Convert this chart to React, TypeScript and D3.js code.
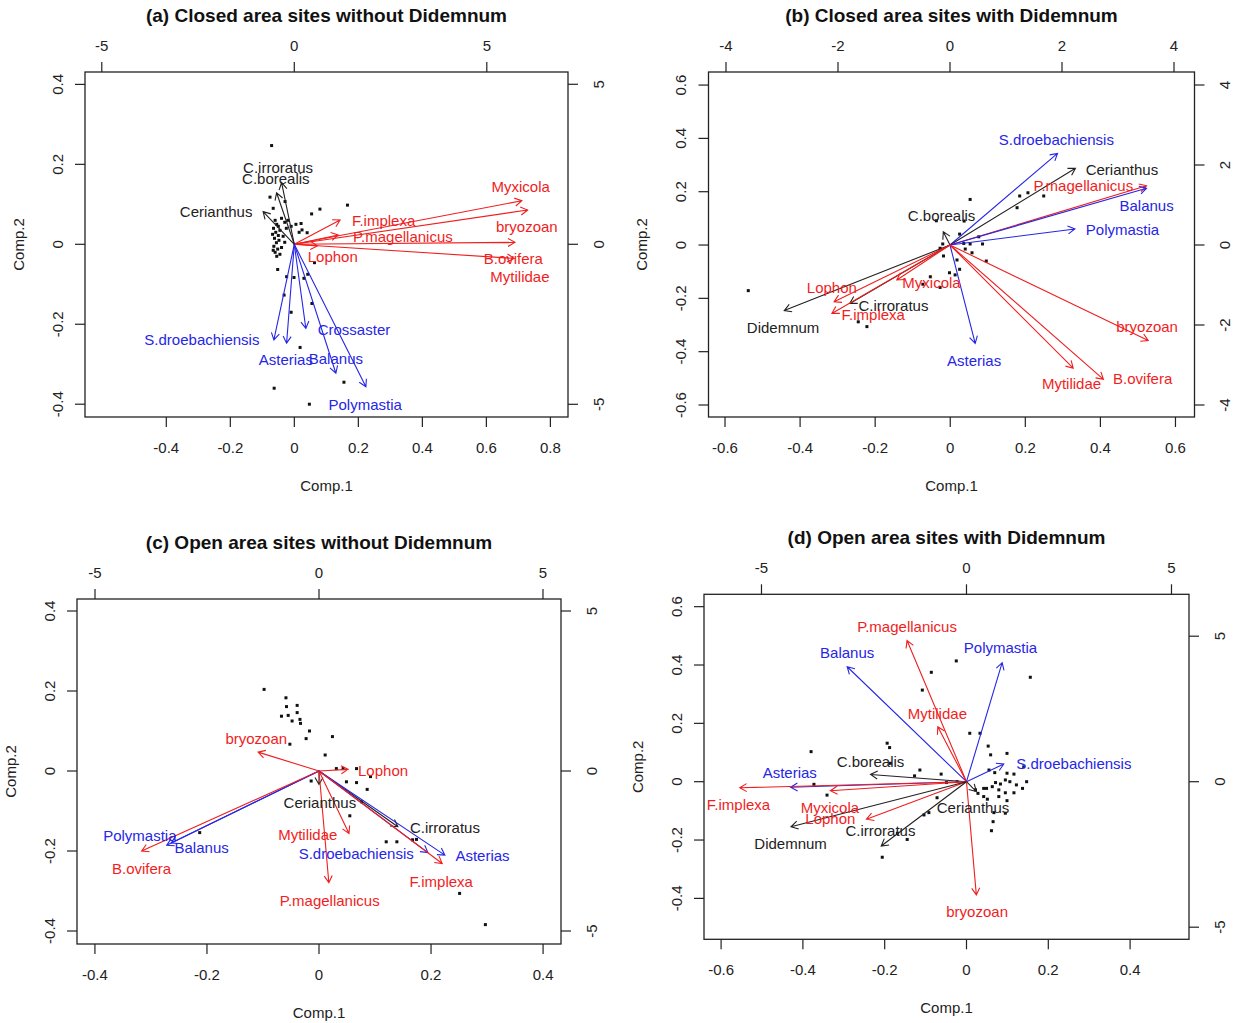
import React from "react";
import * as d3 from "d3";

const FONT = "'Liberation Sans', Arial, Helvetica, sans-serif";
const COLORS: Record<string, string> = { r: "#f01e1e", b: "#2626e6", k: "#222222" };

// ---------- titles ----------
const titles = [
  "(a) Closed area sites without Didemnum",
  "(b) Closed area sites with Didemnum",
  "(c) Open area sites without Didemnum",
  "(d) Open area sites with Didemnum",
];

// ---------- tick values ----------
const aTicksB = [-0.4, -0.2, 0, 0.2, 0.4, 0.6, 0.8];
const aTicksL = [-0.4, -0.2, 0, 0.2, 0.4];
const aTicksT = [-5, 0, 5];
const aTicksR = [-5, 0, 5];
const bTicksB = [-0.6, -0.4, -0.2, 0, 0.2, 0.4, 0.6];
const bTicksL = [-0.6, -0.4, -0.2, 0, 0.2, 0.4, 0.6];
const bTicksT = [-4, -2, 0, 2, 4];
const bTicksR = [-4, -2, 0, 2, 4];
const cTicksB = [-0.4, -0.2, 0, 0.2, 0.4];
const cTicksL = [-0.4, -0.2, 0, 0.2, 0.4];
const cTicksT = [-5, 0, 5];
const cTicksR = [-5, 0, 5];
const dTicksB = [-0.6, -0.4, -0.2, 0, 0.2, 0.4];
const dTicksL = [-0.4, -0.2, 0, 0.2, 0.4, 0.6];
const dTicksT = [-5, 0, 5];
const dTicksR = [-5, 0, 5];

// ---------- panel (a) ----------
const aSpecies = ["Myxicola", "bryozoan", "Mytilidae", "B.ovifera", "F.implexa", "P.magellanicus", "Lophon", "C.irroratus", "C.borealis", "Cerianthus", "S.droebachiensis", "Asterias", "Crossaster", "Balanus", "Polymastia"];
const aGroup = ["r", "r", "r", "r", "r", "r", "r", "k", "k", "k", "b", "b", "b", "b", "b"];
const aLoadX = [5.91, 6.06, 5.73, 5.71, 1.19, 1.14, 0.6, -0.33, -0.46, -0.81, -0.53, -0.2, 0.3, 1.08, 1.86];
const aLoadY = [1.36, 1.07, 0.06, -0.44, 0.76, 0.29, -0.05, 1.93, 1.61, 1.02, -2.99, -3.09, -2.63, -4.03, -4.45];
const aLabX = [5.88, 6.04, 5.86, 5.69, 2.32, 2.82, 1.0, -0.42, -0.48, -2.03, -2.4, -0.22, 1.55, 1.08, 1.84];
const aLabY = [1.82, 0.57, -1.01, -0.45, 0.73, 0.24, -0.39, 2.41, 2.06, 1.02, -2.99, -3.61, -2.67, -3.58, -5.0];
const aScoreX = [-0.071, 0.166, 0.08, 0.054, -0.052, 0.063, -0.024, -0.001, 0.03, 0.042, -0.032, -0.01, 0.055, 0.018, -0.063, 0.155, 0.047, -0.029, -0.076, -0.066, 0.021, 0.04, 0.024,
  -0.06, -0.055, -0.05, -0.065, -0.045, -0.058, -0.05, -0.062, -0.048, -0.056, -0.064, -0.052, -0.06, -0.045, -0.04, -0.035, -0.03, -0.02, -0.025, -0.01, -0.04, -0.068, -0.066, -0.055, -0.03, 0.005, 0.015];
const aScoreY = [0.247, 0.098, 0.088, 0.076, -0.063, -0.046, -0.081, -0.083, -0.085, -0.075, -0.127, -0.17, -0.148, -0.258, -0.36, -0.345, -0.4, 0.107, 0.118, 0.09, 0.052, 0.029, 0.036,
  0.06, 0.05, 0.045, 0.04, 0.035, 0.03, 0.022, 0.015, 0.01, 0.004, -0.005, -0.012, -0.02, -0.025, -0.008, 0.02, 0.055, 0.06, 0.04, 0.045, 0.065, 0.025, -0.015, -0.03, 0.005, 0.05, 0.03];

// ---------- panel (b) ----------
const bSpecies = ["S.droebachiensis", "Cerianthus", "P.magellanicus", "Balanus", "Polymastia", "C.borealis", "Didemnum", "Lophon", "C.irroratus", "F.implexa", "Myxicola", "Asterias", "bryozoan", "Mytilidae", "B.ovifera"];
const bGroup = ["b", "k", "r", "b", "b", "k", "k", "r", "k", "r", "r", "b", "r", "r", "r"];
const bLoadX = [1.92, 2.24, 3.51, 3.51, 2.23, -0.12, -2.96, -2.07, -1.79, -2.11, -0.95, 0.45, 3.54, 2.2, 2.74];
const bLoadY = [2.29, 1.92, 1.48, 1.42, 0.4, 0.33, -1.64, -1.42, -1.46, -1.71, -0.875, -2.46, -2.39, -3.08, -3.36];
const bLabX = [1.9, 3.07, 2.38, 3.51, 3.08, -0.15, -2.98, -2.11, -1.01, -1.37, -0.33, 0.43, 3.52, 2.17, 3.44];
const bLabY = [2.64, 1.89, 1.48, 0.98, 0.39, 0.75, -2.06, -1.06, -1.5, -1.73, -0.93, -2.88, -2.04, -3.46, -3.34];
const bScoreX = [-0.538, 0.053, 0.185, 0.207, 0.249, 0.178, 0.037, -0.037, 0.025, -0.02, 0.036, 0.053, 0.076, 0.086, 0.04, 0.058, 0.096, -0.018, -0.002, 0.025, 0.013, -0.053, -0.073, -0.027, -0.245, -0.222, 0.018, -0.027];
const bScoreY = [-0.171, 0.171, 0.184, 0.196, 0.184, 0.14, 0.09, 0.091, 0.041, 0.004, 0.006, 0.004, 0.031, 0.004, -0.015, -0.029, -0.06, -0.041, -0.104, -0.091, -0.112, -0.119, -0.147, -0.159, -0.288, -0.306, -0.056, -0.012];

// ---------- panel (c) ----------
const cSpecies = ["bryozoan", "Lophon", "Cerianthus", "Polymastia", "Balanus", "B.ovifera", "Mytilidae", "P.magellanicus", "C.irroratus", "S.droebachiensis", "Asterias", "F.implexa"];
const cGroup = ["r", "r", "k", "b", "b", "r", "r", "r", "k", "b", "b", "r"];
const cLoadX = [-1.36, 0.65, 0.0, -3.3, -3.4, -3.96, 0.67, 0.22, 1.76, 2.43, 2.81, 2.75];
const cLoadY = [0.59, 0.05, -0.42, -2.25, -2.32, -2.5, -1.95, -3.49, -1.74, -2.55, -2.63, -2.89];
const cLabX = [-1.4, 1.43, 0.02, -4.0, -2.62, -3.96, -0.25, 0.24, 2.81, 0.83, 3.65, 2.73];
const cLabY = [1.02, 0.03, -0.97, -2.03, -2.38, -3.05, -1.98, -4.06, -1.77, -2.57, -2.65, -3.44];
const cScoreX = [-0.098, -0.059, -0.058, -0.039, -0.067, -0.055, -0.039, -0.048, -0.034, -0.033, -0.017, -0.023, 0.024, -0.052, 0.011, 0.031, 0.043, 0.067, 0.092, 0.049, 0.067, 0.086, -0.014, 0.076, 0.055, -0.213, 0.12, 0.139, 0.167, 0.174, 0.251, 0.297];
const cScoreY = [0.204, 0.183, 0.161, 0.164, 0.137, 0.139, 0.146, 0.125, 0.129, 0.119, 0.1, 0.081, 0.086, 0.067, 0.04, 0.006, 0.006, 0.006, -0.014, -0.027, -0.029, -0.046, -0.025, -0.077, -0.112, -0.154, -0.177, -0.177, -0.172, -0.171, -0.306, -0.384];

// ---------- panel (d) ----------
const dSpecies = ["P.magellanicus", "Balanus", "Polymastia", "Mytilidae", "S.droebachiensis", "C.borealis", "Asterias", "F.implexa", "Myxicola", "Lophon", "Didemnum", "C.irroratus", "Cerianthus", "bryozoan"];
const dGroup = ["r", "b", "b", "r", "b", "k", "b", "r", "r", "r", "k", "k", "k", "r"];
const dLoadX = [-1.45, -2.91, 0.87, -0.7, 0.91, -2.34, -4.29, -5.53, -3.32, -2.44, -4.28, -2.08, 0.24, 0.24];
const dLoadY = [4.85, 3.95, 4.09, 1.89, 0.61, 0.25, -0.19, -0.21, -0.31, -1.29, -1.55, -2.21, -0.34, -3.89];
const dLabX = [-1.45, -2.91, 0.83, -0.71, 2.62, -2.34, -4.31, -5.56, -3.33, -3.32, -4.29, -2.1, 0.16, 0.26];
const dLabY = [5.35, 4.45, 4.6, 2.35, 0.61, 0.71, 0.31, -0.77, -0.88, -1.27, -2.12, -1.68, -0.88, -4.47];
const dScoreX = [-0.025, -0.086, -0.108, 0.156, -0.38, -0.194, -0.188, 0.008, 0.033, 0.053, 0.059, 0.099, 0.069, 0.055, 0.116, -0.114, -0.062, -0.127, -0.186, -0.373, -0.341, -0.072, -0.092, -0.104, -0.145, -0.206, -0.169,
  0.042, 0.063, 0.083, 0.095, 0.106, 0.122, 0.147, 0.137, 0.116, 0.095, 0.079, 0.079, 0.099, 0.095, 0.067, 0.065, 0.061, 0.042, 0.028, 0.051, 0.071, 0.049, 0.14, 0.099, 0.022, -0.049, -0.023];
const dScoreY = [0.414, 0.375, 0.314, 0.358, 0.103, 0.132, 0.117, 0.166, 0.166, 0.122, 0.092, 0.097, 0.031, 0.04, 0.026, 0.04, 0.026, 0.02, 0.063, -0.009, -0.046, -0.055, -0.106, -0.114, -0.198, -0.259, -0.177,
  -0.023, -0.017, -0.008, 0.006, 0.0, -0.011, 0.0, -0.023, -0.038, -0.038, -0.051, -0.028, -0.065, -0.108, -0.106, -0.137, -0.168, -0.051, -0.04, -0.06, -0.003, -0.023, 0.051, 0.029, -0.028, -0.003, 0.0];

type Spec = {
  title: string;
  box: [number, number, number, number]; // left, top, right, bottom
  xDom: [number, number];
  yDom: [number, number];
  x2Dom: [number, number];
  y2Dom: [number, number];
  ticksB: number[];
  ticksL: number[];
  ticksT: number[];
  ticksR: number[];
  species: string[];
  group: string[];
  loadX: number[];
  loadY: number[];
  labX: number[];
  labY: number[];
  scoreX: number[];
  scoreY: number[];
};

const specs: Spec[] = [
  {
    title: titles[0], box: [85, 72, 568, 417],
    xDom: [-0.654, 0.855], yDom: [-0.432, 0.431], x2Dom: [-5.436, 7.109], y2Dom: [-5.397, 5.384],
    ticksB: aTicksB, ticksL: aTicksL, ticksT: aTicksT, ticksR: aTicksR,
    species: aSpecies, group: aGroup, loadX: aLoadX, loadY: aLoadY, labX: aLabX, labY: aLabY, scoreX: aScoreX, scoreY: aScoreY,
  },
  {
    title: titles[1], box: [708.5, 72, 1194.5, 417],
    xDom: [-0.644, 0.6507], yDom: [-0.645, 0.649], x2Dom: [-4.3125, 4.366], y2Dom: [-4.3, 4.325],
    ticksB: bTicksB, ticksL: bTicksL, ticksT: bTicksT, ticksR: bTicksR,
    species: bSpecies, group: bGroup, loadX: bLoadX, loadY: bLoadY, labX: bLabX, labY: bLabY, scoreX: bScoreX, scoreY: bScoreY,
  },
  {
    title: titles[2], box: [77, 599, 561, 944],
    xDom: [-0.432, 0.432], yDom: [-0.4325, 0.43], x2Dom: [-5.402, 5.402], y2Dom: [-5.406, 5.375],
    ticksB: cTicksB, ticksL: cTicksL, ticksT: cTicksT, ticksR: cTicksR,
    species: cSpecies, group: cGroup, loadX: cLoadX, loadY: cLoadY, labX: cLabX, labY: cLabY, scoreX: cScoreX, scoreY: cScoreY,
  },
  {
    title: titles[3], box: [704, 594.3, 1189, 939.3],
    xDom: [-0.6418, 0.544], yDom: [-0.5403, 0.6424], x2Dom: [-6.402, 5.427], y2Dom: [-5.416, 6.44],
    ticksB: dTicksB, ticksL: dTicksL, ticksT: dTicksT, ticksR: dTicksR,
    species: dSpecies, group: dGroup, loadX: dLoadX, loadY: dLoadY, labX: dLabX, labY: dLabY, scoreX: dScoreX, scoreY: dScoreY,
  },
];

const fmt = (v: number) => (Math.abs(v) < 1e-9 ? "0" : String(+v.toFixed(2)));

const TICK = 10;
const FS = 15;

function Panel({ s }: { s: Spec }) {
  const [l, t, r, b] = s.box;
  const x = d3.scaleLinear().domain(s.xDom).range([l, r]);
  const y = d3.scaleLinear().domain(s.yDom).range([b, t]);
  const x2 = d3.scaleLinear().domain(s.x2Dom).range([l, r]);
  const y2 = d3.scaleLinear().domain(s.y2Dom).range([b, t]);
  const cx = (l + r) / 2;
  const cy = (t + b) / 2;
  const headLen = 8;
  const headAng = Math.PI / 6;

  return (
    <g>
      {/* title */}
      <text x={cx} y={t - 57} textAnchor="middle" dominantBaseline="central" fontFamily={FONT} fontWeight="bold" fontSize={19} fill="#111">
        {s.title}
      </text>
      {/* frame */}
      <rect x={l} y={t} width={r - l} height={b - t} fill="none" stroke="#222" strokeWidth={1.3} />
      {/* bottom axis */}
      {s.ticksB.map((v) => (
        <g key={"b" + v}>
          <line x1={x(v)} x2={x(v)} y1={b} y2={b + TICK} stroke="#222" strokeWidth={1.2} />
          <text x={x(v)} y={b + 30} textAnchor="middle" dominantBaseline="central" fontFamily={FONT} fontSize={FS} fill="#222">{fmt(v)}</text>
        </g>
      ))}
      {/* top axis */}
      {s.ticksT.map((v) => (
        <g key={"t" + v}>
          <line x1={x2(v)} x2={x2(v)} y1={t} y2={t - TICK} stroke="#222" strokeWidth={1.2} />
          <text x={x2(v)} y={t - 27} textAnchor="middle" dominantBaseline="central" fontFamily={FONT} fontSize={FS} fill="#222">{fmt(v)}</text>
        </g>
      ))}
      {/* left axis */}
      {s.ticksL.map((v) => (
        <g key={"l" + v}>
          <line x1={l} x2={l - TICK} y1={y(v)} y2={y(v)} stroke="#222" strokeWidth={1.2} />
          <text transform={`translate(${l - 28},${y(v)}) rotate(-90)`} textAnchor="middle" dominantBaseline="central" fontFamily={FONT} fontSize={FS} fill="#222">{fmt(v)}</text>
        </g>
      ))}
      {/* right axis */}
      {s.ticksR.map((v) => (
        <g key={"r" + v}>
          <line x1={r} x2={r + TICK} y1={y2(v)} y2={y2(v)} stroke="#222" strokeWidth={1.2} />
          <text transform={`translate(${r + 30},${y2(v)}) rotate(-90)`} textAnchor="middle" dominantBaseline="central" fontFamily={FONT} fontSize={FS} fill="#222">{fmt(v)}</text>
        </g>
      ))}
      {/* axis titles */}
      <text x={cx} y={b + 68} textAnchor="middle" dominantBaseline="central" fontFamily={FONT} fontSize={FS} fill="#222">Comp.1</text>
      <text transform={`translate(${l - 67},${cy}) rotate(-90)`} textAnchor="middle" dominantBaseline="central" fontFamily={FONT} fontSize={FS} fill="#222">Comp.2</text>
      {/* site scores */}
      {s.scoreX.map((v, i) => (
        <rect key={"p" + i} x={x(v) - 1.5} y={y(s.scoreY[i]) - 1.5} width={3} height={3} fill="#111" />
      ))}
      {/* loading arrows */}
      {s.species.map((name, i) => {
        const x0 = x2(0), y0 = y2(0);
        const x1 = x2(s.loadX[i]), y1 = y2(s.loadY[i]);
        const ang = Math.atan2(y1 - y0, x1 - x0);
        const h1x = x1 - headLen * Math.cos(ang - headAng);
        const h1y = y1 - headLen * Math.sin(ang - headAng);
        const h2x = x1 - headLen * Math.cos(ang + headAng);
        const h2y = y1 - headLen * Math.sin(ang + headAng);
        const col = COLORS[s.group[i]];
        return (
          <path key={"a" + name} d={`M${x0},${y0}L${x1},${y1}M${h1x},${h1y}L${x1},${y1}L${h2x},${h2y}`} fill="none" stroke={col} strokeWidth={1.1} />
        );
      })}
      {/* labels */}
      {s.species.map((name, i) => (
        <text key={"lab" + name} x={x2(s.labX[i])} y={y2(s.labY[i])} textAnchor="middle" dominantBaseline="central" fontFamily={FONT} fontSize={FS} fill={COLORS[s.group[i]]}>
          {name}
        </text>
      ))}
    </g>
  );
}

export default function App() {
  return (
    <svg width={1233} height={1023} style={{ position: "absolute", left: 0, top: 0, background: "#fff" }}>
      <rect x={0} y={0} width={1233} height={1023} fill="#fff" />
      {specs.map((s, i) => (
        <Panel key={i} s={s} />
      ))}
    </svg>
  );
}
